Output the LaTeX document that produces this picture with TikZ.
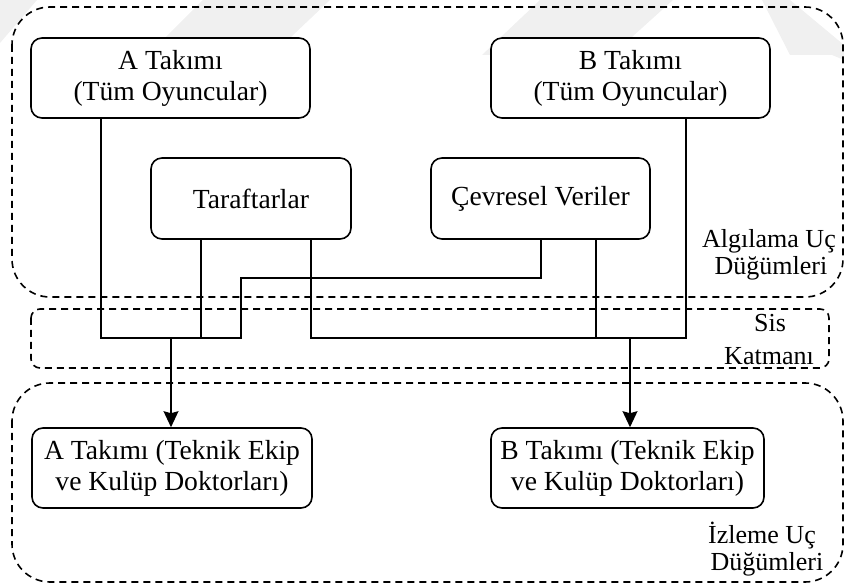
\documentclass[tikz,border=0pt]{standalone}
\usepackage{fontspec}
\setmainfont{Liberation Serif}
\usetikzlibrary{arrows.meta}

\tikzset{
  unitbox/.style={draw, fill=white, line width=1.6pt, rounded corners=11pt, align=center,
    inner sep=0pt, font=\fontsize{27.6}{31}\selectfont},
  layerbox/.style={draw, dashed, dash pattern=on 7pt off 5pt, line width=1.6pt},
  layerlabel/.style={anchor=base, inner sep=0pt, font=\fontsize{26}{31}\selectfont},
  wire/.style={line width=1.3pt},
  feed/.style={line width=1.3pt, -{Stealth[length=16pt,width=15pt,inset=2pt]}},
  backstripe/.style={fill=black!6, draw=none}
}

\begin{document}
\begin{tikzpicture}[x=1pt,y=-1pt]
  \useasboundingbox (0,0) rectangle (844,585);

  % faint background stripes along the top edge
  \fill[backstripe] (0,0) -- (37,0) -- (0,43) -- cycle;
  \fill[backstripe] (203,0) -- (330,0) -- (272,55) -- (148,55) -- cycle;
  \fill[backstripe] (540,0) -- (673,0) -- (612,55) -- (482,55) -- cycle;
  \fill[backstripe] (762,0) -- (790,0) -- (844,45) -- (844,60) -- (832,55) -- (790,55) -- cycle;

  % layer frames
  \draw[layerbox, rounded corners=38pt] (12,7) rectangle (843,297);
  \draw[layerbox, rounded corners=9pt] (31,309) rectangle (829,368);
  \draw[layerbox, rounded corners=38pt] (12,383) rectangle (843,582);

  % layer names
  \node[layerlabel] (algA) at (769,248) {Algılama Uç};
  \node[layerlabel] (algB) at (771,275) {Düğümleri};
  \node[layerlabel] (sisA) at (770,332) {Sis};
  \node[layerlabel] (sisB) at (769,365) {Katmanı};
  \node[layerlabel] (izlA) at (762,543) {İzleme Uç};
  \node[layerlabel] (izlB) at (767,570) {Düğümleri};

  % sensing nodes
  \node[unitbox, minimum width=279pt, minimum height=80pt] (teamA) at (170.5,78) {A Takımı\\(Tüm Oyuncular)};
  \node[unitbox, minimum width=279pt, minimum height=80pt] (teamB) at (630.5,78) {B Takımı\\(Tüm Oyuncular)};
  \node[unitbox, minimum width=200pt, minimum height=81pt] (fans) at (251,198.5) {Taraftarlar};
  \node[unitbox, minimum width=219pt, minimum height=81pt] (env) at (540.5,198.5) {Çevresel Veriler};

  % monitoring nodes
  \node[unitbox, minimum width=280pt, minimum height=80pt] (monA) at (172,468) {A Takımı (Teknik Ekip\\ve Kulüp Doktorları)};
  \node[unitbox, minimum width=273pt, minimum height=80pt] (monB) at (627.5,468) {B Takımı (Teknik Ekip\\ve Kulüp Doktorları)};

  % fog-layer junctions
  \coordinate (busL) at (171,338);
  \coordinate (busR) at (630,338);
  \coordinate (envJog) at (541,278);

  % left bus: team A, fans, environment
  \draw[wire] ([xshift=-69.5pt]teamA.south) |- (busL);
  \draw[wire] ([xshift=-50pt]fans.south) -- ++(0,99);
  \draw[wire] ([xshift=0.5pt]env.south) -- (envJog) -| (241,338) -- (busL);

  % right bus: fans, environment, team B
  \draw[wire] ([xshift=60pt]fans.south) |- (busR);
  \draw[wire] ([xshift=55.5pt]env.south) -- ++(0,99);
  \draw[wire] ([xshift=55.5pt]teamB.south) |- (busR);

  % to monitoring nodes
  \draw[feed] (busL) -- (busL |- monA.north);
  \draw[feed] (busR) -- (busR |- monB.north);
\end{tikzpicture}
\end{document}
